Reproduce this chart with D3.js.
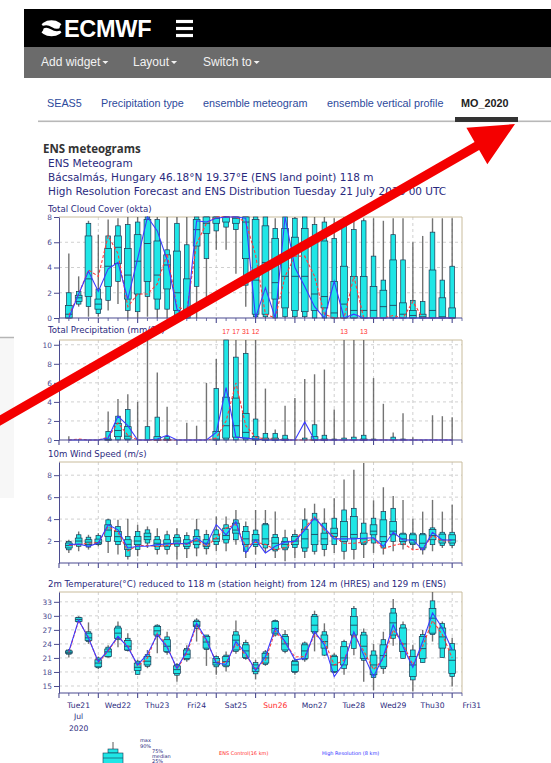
<!DOCTYPE html>
<html><head><meta charset="utf-8">
<script src="https://cdn.jsdelivr.net/npm/d3@7"></script>
<style>
body{margin:0;background:#fff;overflow:hidden;}
svg{display:block;}
</style></head><body>
<svg id="c" width="551" height="763"></svg>
<script>
// ---- forecast steps: every 6 h from +6 h to +240 h (Tue 21 July 2020 00 UTC base)
const steps = d3.range(1, 41).map(i => i * 6);
const dayLabels = ["Tue21","Wed22","Thu23","Fri24","Sat25","Sun26","Mon27","Tue28","Wed29","Thu30","Fri31"];

// ---- Total cloud cover (okta)
const cloudMin = [0,0.9,0.1,0.1,0.6,1.1,0,0,0.1,0,0,0,0,0,1.1,5.4,5.4,3.5,0.9,0,0,0,0,0,0,0,0,0,0,0,0,0,0,0,0,0,0,0,0,0];
const cloudP10 = [0,1.1,0.9,0.35,1.4,2.9,0.6,0.5,1.7,0.7,0.7,0.1,0,2.5,4.7,6.9,7.2,7.0,2.6,0.1,0.1,0,0.1,0.1,0.1,0,0,0,0,0,0,0,0,0,0,0,0,0,0,0];
const cloudP25 = [0,1.3,1.7,0.7,2.5,4.3,1.5,1.9,2.9,1.5,2.3,0.6,0,5.7,6.7,7.5,7.6,7.5,4.7,0.3,0.3,1.5,0.8,0.6,0.5,0.6,0.8,0,0,0,0,0,0,0,0,0,0,0,0,0];
const cloudMed = [0.3,1.6,3.1,1.1,4.1,5.6,3.4,4.5,5.9,3.4,4.2,2.0,0.2,7.0,7.5,7.9,8,7.9,7.6,3.0,4.4,2.8,3.3,3.3,3.3,1.9,1.7,0.4,1.1,0.6,0.6,0.6,0.9,1.0,0.3,0.2,0.1,0.6,0.1,0];
const cloudP75 = [1.0,1.8,6.5,1.5,5.5,6.5,5.5,6.6,7.8,6.1,5.0,5.3,3.1,7.8,8,8,8,8,8,7.8,7.3,6.3,7.1,6.4,7.1,6.1,6.1,2.9,4.1,3.3,3.3,2.5,2.2,4.6,1.2,0.6,0.3,3.8,1.6,0.8];
const cloudP90 = [2.0,2.1,7.5,2.3,6.5,7.3,7.4,7.6,8,7.8,5.4,7.5,5.8,8,8,8,8,8,8,8,8,7.1,8,7.9,8,7.4,7.6,6.3,7.6,7.0,7.7,4.9,3.0,6.6,4.6,1.4,1.3,6.8,3.0,4.1];
const cloudMax = [5.1,3.3,7.7,6.6,7.8,7.9,8,8,8,8,8,8,8,8,8,8,8,8,8,8,8,7.9,8,8,8,8,8,7.9,8,7.9,7.9,7.9,7.7,7.9,7.9,6.0,6.5,7.9,7.9,7.9];
const cloudHres = [0,1.9,3.7,2.1,3.9,4.4,1.5,4.7,8,6.9,4.6,0.7,0,7.7,7.6,7.9,8,8,7.9,0,2.4,0,8,4.0,2.5,0.9,0,2.9,0,0.3,0,0,0,0,0,0,0,0,0,0];
const cloudCtrl = [0.2,1.9,3.8,3.3,6.5,5.1,0.9,1.9,1.9,2.7,5.1,0.9,0.6,5.9,7.5,8,8,8,7.6,5.0,0.3,0,3.3,4.9,4.9,3.3,0.3,0,0,3.3,0,0,0,0.2,0,1.3,0,0,0,0];

// ---- Total precipitation (mm/6h)
const precMin = new Array(40).fill(0);
const precP10 = new Array(40).fill(0);
const precP25 = [0,0,0,0,0,0.35,0.1,0,0,0,0,0,0,0,0,0,0.2,0.3,0.2,0,0,0,0,0,0,0,0,0,0,0,0,0,0,0,0,0,0,0,0,0];
const precMed = [0,0,0,0,0,1.0,0.4,0,0,0,0,0,0,0,0,0.1,1.5,1.5,0.8,0.1,0,0,0,0,0,0,0,0,0,0,0,0,0,0,0,0,0,0,0,0];
const precP75 = [0,0,0,0,0.1,1.75,1.4,0,0,0.35,0.1,0,0,0,0,0.9,4.5,4.4,2.8,0.35,0.2,0.2,0.1,0,0,0.35,0.1,0,0,0,0.1,0,0,0,0,0,0,0,0,0];
const precP90 = [0,0,0,0,0.9,2.5,3.2,0,1.4,2.4,0.35,0,0,0,0,5.4,11,8.7,9.1,2.2,0.7,0.7,0.5,0,0.2,1.6,0.5,0.1,0.2,0.3,0.5,0.1,0,0.3,0.1,0,0,0,0,0];
const precMax = [0.4,0.1,0,0,3.0,4.3,4.8,4.0,10.5,7.1,3.5,0,1.8,1.5,6.0,8.5,17,17,31,12,5.4,1.1,3.6,4.4,6.4,6.9,7.4,3.2,13,10.5,13,6.5,3.8,0.8,2.8,0.3,0,2.6,2.5,2.4];
const precHres = [0,0,0,0,0.2,2.5,1.5,0,0,0.1,0.5,0,0,0,0,0.8,5.5,0.3,0.2,0.1,0,0,0,0,1.9,0,0,0,0,0,0,0,0,0,0,0,0,0,0,0];
const precCtrl = [0,0.1,0,0,0.3,1.8,0.5,0,0,0,0,0,0,0,0,0.2,2.0,6.0,1.5,0.3,0.1,0.1,0,0,0,0,0,0,0,0,0,0,0,0,0,0,0,0,0,0];

// ---- 10 m wind speed (m/s)
const windMin = [0.92,1.07,1.22,1.52,0.92,0.77,0.31,0.61,1.37,0.77,0.77,0.31,0.46,0.61,0.77,1.07,1.07,1.67,0.46,0.77,0.92,0.46,0.15,0.46,0.46,0.77,0.61,0.92,0.31,0.31,0.46,0.92,0.77,1.07,1.22,1.22,0.77,1.07,1.37,1.37];
const windP10 = [1.2,1.52,1.45,1.67,1.97,1.67,0.61,1.22,1.82,1.22,1.22,1.52,1.3,1.37,1.3,1.67,1.82,2.12,1.07,1.5,1.37,1.1,1.2,1.4,1.07,1.07,1.22,1.67,1.07,1.22,1.67,1.82,1.37,1.97,1.67,1.67,1.2,1.67,1.6,1.6];
const windP25 = [1.37,1.67,1.67,1.73,2.42,1.97,1.22,1.67,2.12,1.52,1.52,1.73,1.52,1.67,1.52,1.97,2.12,2.72,1.67,1.7,1.67,1.22,1.37,1.67,1.37,1.67,1.67,2.42,1.97,2.27,1.82,2.57,1.97,2.57,1.97,1.82,1.37,2.12,1.82,1.82];
const windMed = [1.6,2.0,1.9,1.85,3.0,2.4,1.7,2.0,2.4,1.8,1.8,2.0,1.8,2.0,1.8,2.2,2.5,3.0,2.2,2.1,2.2,1.8,1.7,2.0,2.2,2.6,2.2,2.7,2.4,2.6,2.2,2.9,2.4,2.9,2.2,2.1,1.8,2.5,2.1,2.1];
const windP75 = [1.82,2.27,2.12,2.18,3.48,2.87,2.12,2.42,2.72,2.12,2.12,2.33,2.12,2.42,2.12,2.57,3.17,3.63,2.87,2.6,3.48,2.33,1.97,2.42,3.08,3.93,2.72,3.17,3.78,4.23,2.72,3.48,3.93,3.78,2.63,2.57,2.57,3.05,2.63,2.57];
const windP90 = [1.97,2.57,2.35,2.5,3.93,3.33,2.42,2.87,3.02,2.42,2.57,2.57,2.5,3.02,2.6,3.02,3.48,3.93,3.33,3.0,3.6,2.6,2.3,2.6,3.93,4.53,3.63,4.08,4.83,4.98,3.63,4.08,4.68,4.98,2.72,2.72,2.7,3.2,2.8,2.8];
const windMax = [2.12,2.87,2.57,2.72,4.02,3.93,4.02,3.48,3.33,3.17,2.93,3.17,2.81,4.02,3.02,4.23,4.23,4.83,3.78,4.83,4.83,4.68,3.02,3.02,4.98,5.4,4.98,5.9,7.6,8.5,9.1,5.7,6.9,6.1,5.75,4.02,4.68,5.75,4.68,5.3];
const windHres = [1.67,1.73,1.52,1.82,3.48,3.02,1.37,1.52,1.52,1.67,1.73,1.82,1.73,2.27,1.67,3.5,2.57,3.78,0.92,2.12,0.92,1.52,1.9,1.97,3.0,4.1,3.2,2.2,2.2,2.2,2.25,2.3,1.5,2.8,2.1,2.1,1.2,2.8,2.1,2.1];
const windCtrl = [1.6,1.7,1.8,1.85,3.3,2.8,1.1,1.6,1.6,1.5,1.6,1.8,1.7,2.1,1.5,2.3,3.2,3.5,1.5,1.9,1.7,1.2,1.4,2.0,3.2,4.2,3.0,2.4,1.8,1.8,1.9,2.2,1.3,1.6,1.8,1.2,1.3,2.5,2.0,2.0];

// ---- 2 m temperature (°C)
const tempMin = [21.1,28.6,24.0,18.6,21.1,23.3,22.4,17.4,18.8,22.0,21.7,15.9,20.2,24.5,19.3,17.4,18.1,21.9,20.6,16.4,19.3,25.6,22.0,17.4,20.2,22.4,21.4,17.7,17.4,21.6,15.9,14.1,17.6,23.6,20.9,13.8,20.0,24.5,21.1,14.9];
const tempP10 = [21.8,28.7,24.5,18.9,21.2,24.9,22.6,17.5,19.2,25.6,22.2,17.3,20.6,27.3,22.8,19.1,19.1,22.4,20.9,17.6,19.6,25.9,22.4,17.9,20.6,26.3,21.6,17.9,18.7,23.0,20.5,16.8,18.7,25.2,20.9,16.3,20.0,26.0,21.1,17.0];
const tempP25 = [22.0,28.8,24.7,19.1,21.3,25.2,22.7,18.3,19.5,25.9,22.4,17.7,20.9,27.7,23.1,19.5,19.3,22.7,21.1,18.1,19.9,26.3,22.7,18.1,20.9,26.6,23.1,18.1,19.5,25.9,20.9,17.4,19.1,25.9,22.4,17.0,20.9,26.3,23.1,17.7];
const tempMed = [22.2,29.2,25.3,19.9,22.3,26.3,23.5,19.0,20.3,26.8,23.5,18.5,21.8,28.0,24.4,20.0,20.2,24.8,22.5,18.8,21.0,27.3,24.0,19.5,22.5,28.0,24.5,19.5,21.0,28.0,23.5,19.5,21.5,28.5,24.0,19.5,23.0,29.5,25.5,20.5];
const tempP75 = [22.5,29.6,26.3,20.6,22.9,27.4,24.7,19.9,21.3,27.7,24.9,19.3,22.7,28.8,25.6,20.9,21.3,25.9,23.8,19.5,22.0,28.8,25.6,20.2,23.8,29.9,25.9,21.3,23.4,29.9,25.9,21.6,23.8,30.6,27.4,21.3,25.6,31.6,27.4,22.7];
const tempP90 = [22.7,29.7,26.6,21.0,23.3,27.8,25.2,20.3,21.7,28.0,25.5,19.6,23.0,29.1,25.9,21.3,21.6,26.6,24.3,20.0,22.3,29.0,26.0,20.5,24.2,30.3,26.6,21.6,24.5,31.6,26.5,22.5,24.9,31.6,28.1,22.7,26.0,33.2,28.4,24.1];
const tempMax = [22.9,29.9,28.6,21.3,23.7,28.8,26.3,20.6,22.7,28.2,26.6,19.9,23.7,29.5,25.9,21.6,22.4,29.0,24.9,20.6,22.7,29.2,27.0,20.9,24.5,31.1,28.4,22.0,24.9,32.1,27.3,24.0,26.6,33.6,28.8,23.8,27.0,35.2,28.8,25.3];
const tempHres = [22.4,29.1,25.2,20.2,22.7,25.6,23.3,19.5,21.8,26.0,23.3,18.8,22.4,28.4,24.9,19.9,19.6,24.5,22.0,18.3,21.3,27.4,24.5,20.6,20.9,26.6,23.8,17.0,19.9,26.6,21.6,17.0,21.3,28.1,23.4,19.0,24.5,30.6,27.4,22.7];
const tempCtrl = [22.2,29.0,25.4,20.0,22.5,25.5,23.6,19.2,21.0,26.3,23.5,18.6,22.0,28.0,24.6,20.2,20.0,24.0,21.6,18.6,20.5,26.8,24.2,21.2,21.3,26.0,24.5,19.5,20.5,26.0,22.5,18.5,20.8,27.0,24.0,19.5,23.5,29.0,26.0,21.0];

// ---- tick values for each panel's value axis
const cloudTicks = [0,2,4,6,8];
const precTicks = [0,2,4,6,8,10];
const windTicks = [2,4,6,8];
const tempTicks = [15,18,21,24,27,30,33];

const C = {
  navy: "#2a2a7e", axis: "#4b4b8f", grid: "#c4c4c4", frame: "#c9bc9c",
  box: "#1fe6e6", boxEdge: "#1d3550", whisker: "#5a5a5a",
  hres: "#3b3bff", ctrl: "#ff3c3c"
};
const sans = "Liberation Sans, Arial, sans-serif";
const tf = "DejaVu Sans, Verdana, sans-serif";

const svg = d3.select("#c");

// ---------------- page chrome ----------------
svg.append("rect").attr("x", 0).attr("y", 0).attr("width", 551).attr("height", 763).attr("fill", "#fff");
// faint side panel on the left
svg.append("rect").attr("x", 0).attr("y", 338).attr("width", 14).attr("height", 160).attr("fill", "#f7f7f7");
svg.append("line").attr("x1", 0).attr("x2", 14).attr("y1", 337.5).attr("y2", 337.5).attr("stroke", "#b5b5b5").attr("stroke-width", 1.5);

// top bar
svg.append("rect").attr("x", 24).attr("y", 9).attr("width", 527).attr("height", 38).attr("fill", "#000");
// logo emblem: white rounded badge cut by a wave and two side notches
svg.append("ellipse").attr("cx", 51.5).attr("cy", 28.3).attr("rx", 11.5).attr("ry", 8).attr("fill", "#fff");
svg.append("circle").attr("cx", 38.5).attr("cy", 28.3).attr("r", 5).attr("fill", "#000");
svg.append("circle").attr("cx", 64.5).attr("cy", 28.3).attr("r", 5).attr("fill", "#000");
svg.append("path").attr("d", "M41,28.3 Q46,24.8 51.5,28.3 T62,28.3").attr("fill", "none").attr("stroke", "#000").attr("stroke-width", 2.4);
svg.append("text").attr("x", 64).attr("y", 37).text("ECMWF")
  .attr("fill", "#fff").attr("font-family", sans).attr("font-weight", "bold").attr("font-size", 23.5).attr("letter-spacing", -0.3);
[21.5, 28.5, 35.5].forEach(yy => svg.append("rect").attr("x", 176).attr("y", yy - 1.6).attr("width", 17).attr("height", 3.2).attr("fill", "#fff"));

// menu bar
svg.append("rect").attr("x", 24).attr("y", 47).attr("width", 527).attr("height", 31).attr("fill", "#6b6b6b");
[["Add widget", 41], ["Layout", 133], ["Switch to", 203]].forEach(([t, xx]) => {
  const tx = svg.append("text").attr("x", xx).attr("y", 66).text(t)
    .attr("fill", "#f2f2f2").attr("font-family", sans).attr("font-size", 12);
  const w = tx.node().getComputedTextLength();
  svg.append("path").attr("d", `M${xx + w + 2},61 l6,0 l-3,3 z`).attr("fill", "#f2f2f2");
});

// tabs
const tabs = [["SEAS5", 47], ["Precipitation type", 101], ["ensemble meteogram", 203], ["ensemble vertical profile", 327], ["MO_2020", 461]];
tabs.forEach(([t, xx], k) => {
  svg.append("text").attr("x", xx).attr("y", 107).text(t)
    .attr("fill", k === 4 ? "#222" : "#2d4a9c").attr("font-weight", k === 4 ? "bold" : "normal")
    .attr("font-family", sans).attr("font-size", 10.8);
});
svg.append("rect").attr("x", 38).attr("y", 120.5).attr("width", 513).attr("height", 1.6).attr("fill", "#b8b8b8");
svg.append("rect").attr("x", 455).attr("y", 117).attr("width", 63).attr("height", 5).attr("fill", "#333");

// titles
svg.append("text").attr("x", 43).attr("y", 153).text("ENS meteograms")
  .attr("font-family", "Open Sans, DejaVu Sans, sans-serif").attr("font-weight", "bold").attr("font-size", 11.5).attr("fill", "#333");
[["ENS Meteogram", 167], ["Bácsalmás, Hungary 46.18°N 19.37°E (ENS land point) 118 m", 181],
 ["High Resolution Forecast and ENS Distribution Tuesday 21 July 2020 00 UTC", 195]].forEach(([t, yy]) => {
  svg.append("text").attr("x", 48).attr("y", yy).text(t)
    .attr("font-family", tf).attr("font-size", 10.5).attr("fill", C.navy);
});

// ---------------- meteogram panels ----------------
const x = d3.scaleLinear().domain([0, 246]).range([59, 462]);
const xRight = x.range()[1];

function panel(cfg) {
  const y = d3.scaleLinear().domain(cfg.domain).range(cfg.range).clamp(true);
  const [yBot, yTop] = cfg.range;
  const g = svg.append("g");

  g.append("text").attr("x", 48).attr("y", cfg.titleY).text(cfg.title)
    .attr("font-family", tf).attr("font-size", 8.6).attr("fill", C.navy);

  // grid
  cfg.ticks.filter(v => y(v) < yBot - 1 && y(v) > yTop + 1).forEach(v => {
    g.append("line").attr("x1", x(0)).attr("x2", xRight).attr("y1", y(v)).attr("y2", y(v))
      .attr("stroke", C.grid).attr("stroke-dasharray", "3,3").attr("stroke-width", 0.8);
  });
  d3.range(24, 246, 24).forEach(h => {
    g.append("line").attr("x1", x(h)).attr("x2", x(h)).attr("y1", yTop).attr("y2", yBot)
      .attr("stroke", C.grid).attr("stroke-dasharray", "3,3").attr("stroke-width", 0.8);
  });
  // frame
  g.append("path").attr("d", `M${x(0)},${yTop} H${xRight} V${yBot}`).attr("fill", "none")
    .attr("stroke", C.frame).attr("stroke-width", 1);

  const rows = steps.map((h, i) => ({
    h, mn: cfg.mn[i], p10: cfg.p10[i], p25: cfg.p25[i], md: cfg.md[i], p75: cfg.p75[i], p90: cfg.p90[i], mx: cfg.mx[i]
  }));

  // whiskers
  g.selectAll(".wh").data(rows.filter(d => d.mx > d.mn)).join("line")
    .attr("x1", d => x(d.h)).attr("x2", d => x(d.h))
    .attr("y1", d => y(d.mn)).attr("y2", d => y(d.mx))
    .attr("stroke", C.whisker).attr("stroke-width", 1.4).attr("stroke-opacity", 0.85);
  // 10-90 % boxes
  g.selectAll(".b1").data(rows.filter(d => y(d.p10) - y(d.p90) > 0.6)).join("rect")
    .attr("x", d => x(d.h) - 2.3).attr("width", 4.6)
    .attr("y", d => y(d.p90)).attr("height", d => y(d.p10) - y(d.p90))
    .attr("fill", C.box).attr("stroke", C.boxEdge).attr("stroke-width", 0.7);
  // 25-75 % boxes
  g.selectAll(".b2").data(rows.filter(d => y(d.p25) - y(d.p75) > 0.6)).join("rect")
    .attr("x", d => x(d.h) - 3.4).attr("width", 6.8)
    .attr("y", d => y(d.p75)).attr("height", d => y(d.p25) - y(d.p75))
    .attr("fill", C.box).attr("stroke", C.boxEdge).attr("stroke-width", 0.7);
  // medians
  g.selectAll(".md").data(rows.filter(d => y(d.p25) - y(d.p75) > 0.6)).join("line")
    .attr("x1", d => x(d.h) - 3.4).attr("x2", d => x(d.h) + 3.4)
    .attr("y1", d => y(d.md)).attr("y2", d => y(d.md))
    .attr("stroke", C.boxEdge).attr("stroke-width", 0.8);

  // control (dashed red) and high resolution (blue) lines
  const line = d3.line().x((v, i) => x(steps[i])).y(v => y(v));
  g.append("path").attr("d", line(cfg.ctrl)).attr("fill", "none")
    .attr("stroke", C.ctrl).attr("stroke-width", 1.1).attr("stroke-dasharray", "3,2");
  g.append("path").attr("d", line(cfg.hres)).attr("fill", "none")
    .attr("stroke", C.hres).attr("stroke-width", 1.1);

  // values beyond the top of the panel
  g.selectAll(".ov").data(rows.filter(d => d.mx > cfg.domain[1] + 1)).join("text")
    .attr("x", d => x(d.h)).attr("y", yTop - 6).attr("text-anchor", "middle")
    .text(d => d3.format("d")(d.mx))
    .attr("font-family", sans).attr("font-size", 6.8).attr("fill", "#ff3030");

  // value axis
  const ax = g.append("g").attr("transform", `translate(${x(0)},0)`)
    .call(d3.axisLeft(y).tickValues(cfg.ticks).tickSize(5).tickSizeOuter(0).tickPadding(2));
  ax.select(".domain").attr("stroke", C.axis).attr("stroke-width", 1);
  ax.selectAll(".tick line").attr("stroke", C.axis);
  ax.selectAll(".tick text").attr("fill", C.axis).attr("font-family", tf).attr("font-size", 7.4);

  // time axis line with 6-hourly ticks
  g.append("line").attr("x1", x(0)).attr("x2", xRight).attr("y1", yBot).attr("y2", yBot)
    .attr("stroke", C.axis).attr("stroke-width", 1.2);
  const tk = d3.range(0, 247, 6);
  g.selectAll(".tk").data(tk).join("line")
    .attr("x1", h => x(h)).attr("x2", h => x(h))
    .attr("y1", yBot).attr("y2", h => yBot + (h % 24 === 0 ? 5 : 3))
    .attr("stroke", C.axis).attr("stroke-width", h => h % 24 === 0 ? 1.1 : 0.8);
  return { y, yBot };
}

panel({ title: "Total Cloud Cover (okta)", titleY: 211.5, domain: [0, 8], range: [318, 217], ticks: cloudTicks,
  mn: cloudMin, p10: cloudP10, p25: cloudP25, md: cloudMed, p75: cloudP75, p90: cloudP90, mx: cloudMax, hres: cloudHres, ctrl: cloudCtrl });
panel({ title: "Total Precipitation (mm/6h)", titleY: 333, domain: [0, 10.5], range: [440, 340], ticks: precTicks,
  mn: precMin, p10: precP10, p25: precP25, md: precMed, p75: precP75, p90: precP90, mx: precMax, hres: precHres, ctrl: precCtrl });
panel({ title: "10m Wind Speed (m/s)", titleY: 457, domain: [0, 9.2], range: [563, 462], ticks: windTicks,
  mn: windMin, p10: windP10, p25: windP25, md: windMed, p75: windP75, p90: windP90, mx: windMax, hres: windHres, ctrl: windCtrl });
panel({ title: "2m Temperature(°C) reduced to 118 m (station height) from 124 m (HRES) and 129 m (ENS)", titleY: 587,
  domain: [13.5, 35.1], range: [693, 592], ticks: tempTicks,
  mn: tempMin, p10: tempP10, p25: tempP25, md: tempMed, p75: tempP75, p90: tempP90, mx: tempMax, hres: tempHres, ctrl: tempCtrl });

// day labels under the last panel
dayLabels.forEach((d, k) => {
  svg.append("text").attr("x", x(12 + 24 * k)).attr("y", 708).attr("text-anchor", "middle").text(d)
    .attr("font-family", tf).attr("font-size", 7.6).attr("fill", d.startsWith("Sun") ? "#ff2a2a" : C.navy);
});
[["Jul", 719], ["2020", 731]].forEach(([t, yy]) => {
  svg.append("text").attr("x", x(12)).attr("y", yy).attr("text-anchor", "middle").text(t)
    .attr("font-family", tf).attr("font-size", 7.6).attr("fill", C.navy);
});

// ---------------- legend ----------------
const lg = svg.append("g");
lg.append("line").attr("x1", 113).attr("x2", 113).attr("y1", 742).attr("y2", 749).attr("stroke", C.whisker).attr("stroke-width", 1);
lg.append("rect").attr("x", 108).attr("y", 749).attr("width", 10).attr("height", 4).attr("fill", C.box).attr("stroke", C.boxEdge).attr("stroke-width", 0.6);
lg.append("rect").attr("x", 103).attr("y", 753).attr("width", 20).attr("height", 12).attr("fill", C.box).attr("stroke", C.boxEdge).attr("stroke-width", 0.6);
lg.append("line").attr("x1", 103).attr("x2", 123).attr("y1", 758).attr("y2", 758).attr("stroke", C.boxEdge).attr("stroke-width", 0.6);
[["max", 140, 742], ["90%", 140, 747.5], ["75%", 152, 753], ["median", 152, 758], ["25%", 152, 763]].forEach(([t, xx, yy]) => {
  lg.append("text").attr("x", xx).attr("y", yy).text(t).attr("font-family", tf).attr("font-size", 5).attr("fill", C.navy);
});
lg.append("text").attr("x", 219).attr("y", 755).text("ENS Control(16 km)").attr("font-family", tf).attr("font-size", 5).attr("fill", "#ff2a2a");
lg.append("text").attr("x", 322).attr("y", 755).text("High Resolution (8 km)").attr("font-family", tf).attr("font-size", 5).attr("fill", "#3030ff");

// ---------------- red pointer arrow ----------------
const tail = [-6, 424], tip = [515, 124];
const dx = tip[0] - tail[0], dy = tip[1] - tail[1], L = Math.hypot(dx, dy);
const ux = dx / L, uy = dy / L, px = -uy, py = ux;
const headL = 44, headW = 21, shaftW = 4.6;
const bx = tip[0] - ux * headL, by = tip[1] - uy * headL;
const pts = [
  [tail[0] + px * shaftW, tail[1] + py * shaftW],
  [bx + px * shaftW, by + py * shaftW],
  [bx + px * headW, by + py * headW],
  tip,
  [bx - px * headW, by - py * headW],
  [bx - px * shaftW, by - py * shaftW],
  [tail[0] - px * shaftW, tail[1] - py * shaftW]
];
svg.append("path").attr("d", "M" + pts.map(p => p.join(",")).join("L") + "Z").attr("fill", "#f40000");
</script>
</body></html>
